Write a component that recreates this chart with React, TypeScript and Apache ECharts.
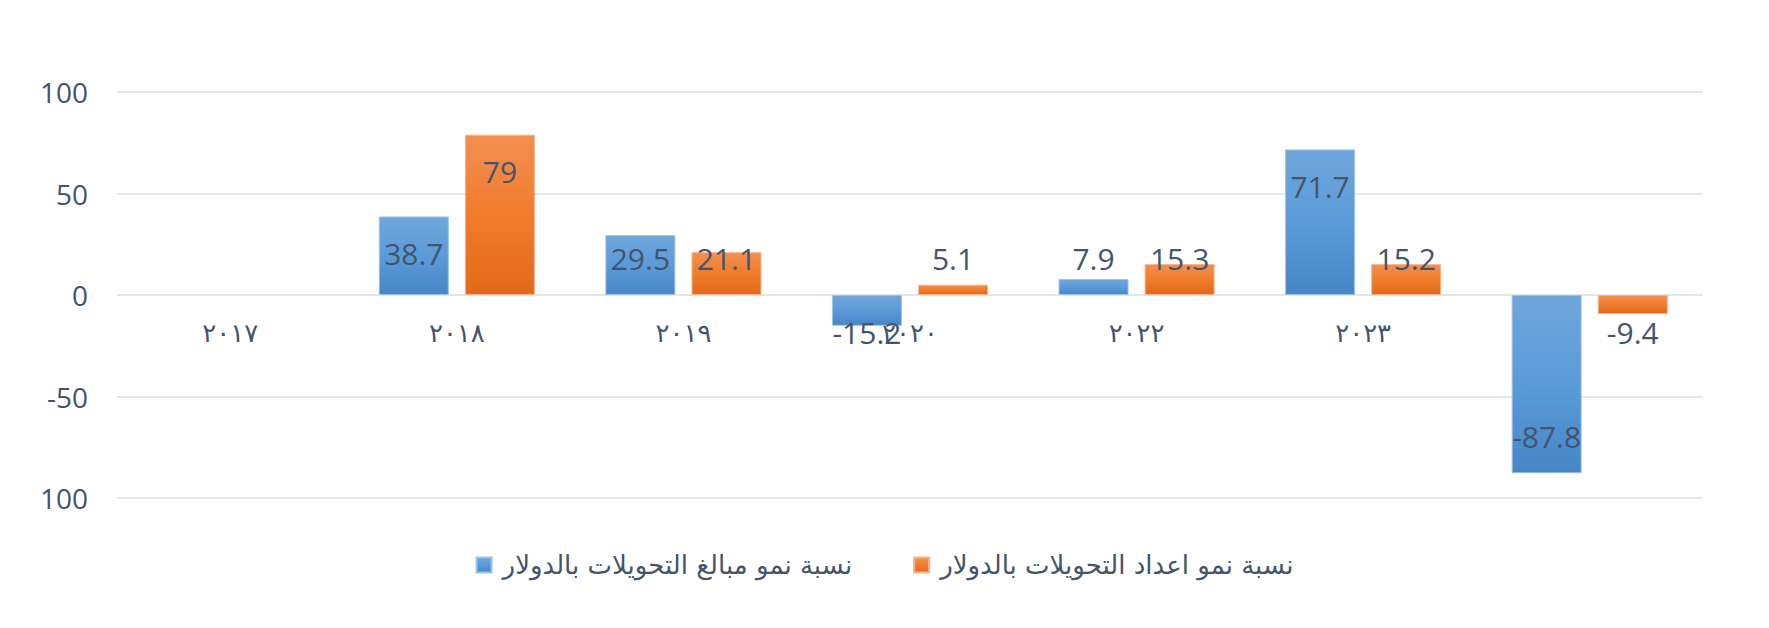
import React, { useEffect, useRef } from "react";
import * as echarts from "echarts";

const categories = ["٢٠١٧", "٢٠١٨", "٢٠١٩", "٢٠٢٠", "٢٠٢٢", "٢٠٢٣", ""];
const amountGrowth: (number | null)[] = [null, 38.7, 29.5, -15.2, 7.9, 71.7, -87.8];
const countGrowth: (number | null)[] = [null, 79, 21.1, 5.1, 15.3, 15.2, -9.4];
const seriesNames = [
  "نسبة نمو مبالغ التحويلات بالدولار",
  "نسبة نمو اعداد التحويلات بالدولار",
];
const yTicks = [-100, -50, 0, 50, 100];

const TEXT = "#44546A";

function labelFor(v: number | null) {
  if (v === null) return {};
  const big = Math.abs(v) > 35;
  let position: string;
  if (v >= 0) position = big ? "insideTop" : "insideBottom";
  else position = big ? "insideBottom" : "insideTop";
  return { position, distance: 22 };
}

function buildData(vals: (number | null)[]) {
  return vals.map((v) => ({ value: v, label: labelFor(v) }));
}

const blueGrad = new echarts.graphic.LinearGradient(0, 0, 0, 1, [
  { offset: 0, color: "#70A6DC" },
  { offset: 0.5, color: "#5B9BD8" },
  { offset: 1, color: "#4686C6" },
]);
const orangeGrad = new echarts.graphic.LinearGradient(0, 0, 0, 1, [
  { offset: 0, color: "#F38F52" },
  { offset: 0.5, color: "#F07C2C" },
  { offset: 1, color: "#E2691A" },
]);

export default function App() {
  const ref = useRef<HTMLDivElement>(null);
  useEffect(() => {
    if (!ref.current) return;
    const chart = echarts.init(ref.current, undefined, { renderer: "svg" });
    const labelCommon = {
      show: true,
      color: TEXT,
      fontFamily: "Open Sans",
      fontSize: 30,
      formatter: (p: any) => String(p.value),
    };
    chart.setOption({
      animation: false,
      backgroundColor: "#ffffff",
      grid: { left: 117, right: 66, top: 92, bottom: 130, containLabel: false },
      legend: {
        data: seriesNames,
        left: "center",
        top: 547,
        icon: "rect",
        itemWidth: 15,
        itemHeight: 15,
        itemGap: 61,
        textStyle: {
          color: TEXT,
          fontFamily: "DejaVu Sans",
          fontSize: 26,
          padding: [0, 0, 0, 6],
        },
      },
      xAxis: {
        type: "category",
        data: categories,
        position: "bottom",
        axisLine: { show: false, onZero: false },
        axisTick: { show: false },
        axisLabel: {
          color: TEXT,
          fontFamily: "DejaVu Sans",
          fontSize: 26,
          margin: -178,
          interval: 0,
        },
        z: 1,
      },
      yAxis: {
        type: "value",
        min: -100,
        max: 100,
        interval: 50,
        axisLine: { show: false },
        axisTick: { show: false },
        splitLine: { lineStyle: { color: "#D9DEE7", width: 1.5 } },
        axisLabel: {
          color: TEXT,
          fontFamily: "Open Sans",
          fontSize: 28,
          margin: 29,
          formatter: (v: number) => (v === yTicks[0] ? String(Math.abs(v)) : String(v)),
        },
      },
      series: [
        {
          name: seriesNames[0],
          type: "bar",
          data: buildData(amountGrowth),
          barWidth: 70,
          barGap: "23%",
          itemStyle: { color: blueGrad, borderColor: "#9DC3E6", borderWidth: 1 },
          label: labelCommon,
          z: 3,
        },
        {
          name: seriesNames[1],
          type: "bar",
          data: buildData(countGrowth),
          barWidth: 70,
          barGap: "23%",
          itemStyle: { color: orangeGrad, borderColor: "#F6B48A", borderWidth: 1 },
          label: labelCommon,
          z: 3,
        },
      ],
    });
    return () => chart.dispose();
  }, []);
  return (
    <div
      ref={ref}
      style={{ position: "fixed", left: 0, top: 0, width: 1769, height: 628, background: "#fff" }}
    />
  );
}
